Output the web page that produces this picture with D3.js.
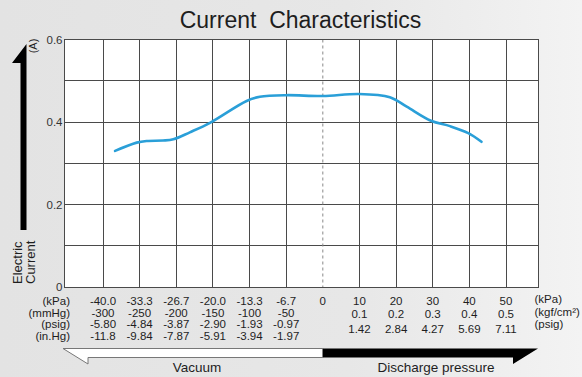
<!DOCTYPE html>
<html><head><meta charset="utf-8">
<script src="https://cdn.jsdelivr.net/npm/d3@7"></script>
<style>
html,body{margin:0;padding:0;}
svg{display:block;font-family:"Liberation Sans",Arial,Helvetica,sans-serif;}
</style></head>
<body><svg id="c" width="582" height="377"></svg>
<script>
// ---- data ----
const kPaLabels = ["-40.0","-33.3","-26.7","-20.0","-13.3","-6.7","0","10","20","30","40","50"];
const mmHgLabels = ["-300","-250","-200","-150","-100","-50"];
const psigVacLabels = ["-5.80","-4.84","-3.87","-2.90","-1.93","-0.97"];
const inHgLabels = ["-11.8","-9.84","-7.87","-5.91","-3.94","-1.97"];
const kgfLabels = ["0.1","0.2","0.3","0.4","0.5"];
const psigPosLabels = ["1.42","2.84","4.27","5.69","7.11"];
const yTickValues = [0, 0.2, 0.4, 0.6];
const yGridValues = [0.1, 0.2, 0.3, 0.4, 0.5];
// curve: position along the pressure axis (1 = -40.0 kPa ... 12 = 50 kPa), current (A)
const curvePos = [1.33, 1.92, 2.19, 2.64, 2.92, 3.37, 3.92, 4.92, 5.28, 5.99, 7.0, 7.99, 8.83, 9.29, 9.95, 10.47, 10.97, 11.33];
const curveAmp = [0.330, 0.350, 0.354, 0.355, 0.358, 0.375, 0.398, 0.451, 0.461, 0.465, 0.463, 0.468, 0.460, 0.437, 0.403, 0.390, 0.373, 0.352];

// ---- layout ----
const svg = d3.select("#c");
const L = 64, R = 538, T = 39.5, B = 287;
const x = d3.scaleLinear().domain([1, 12]).range([103, 506]);
const y = d3.scaleLinear().domain([0, 0.6]).range([B, T]);
const ink = "#1e1e1e";

const defs = svg.append("defs");
const g = defs.append("linearGradient").attr("id","bg").attr("x1","0").attr("x2","1").attr("y1","0").attr("y2","0");
g.append("stop").attr("offset","0").attr("stop-color","#e3e3e3");
g.append("stop").attr("offset","0.6").attr("stop-color","#e7e7e7");
g.append("stop").attr("offset","1").attr("stop-color","#f3f3f3");
svg.append("rect").attr("width",582).attr("height",377).attr("fill","url(#bg)");

// title
svg.append("text").attr("x",300.5).attr("y",27.5).attr("text-anchor","middle")
  .attr("font-size",23).attr("fill",ink).style("white-space","pre")
  .text("Current  Characteristics");

// plot area
svg.append("rect").attr("x",L).attr("y",T).attr("width",R-L).attr("height",B-T).attr("fill","#fff");

const grid = svg.append("g").attr("stroke","#4a4a4a").attr("stroke-width",1).attr("shape-rendering","crispEdges");
grid.selectAll("line.h").data(yGridValues).join("line").attr("class","h")
  .attr("x1",L).attr("x2",R).attr("y1",d=>y(d)).attr("y2",d=>y(d));
const idx = d3.range(1, 13);
grid.selectAll("line.v").data(idx.filter(i=>kPaLabels[i-1]!=="0")).join("line").attr("class","v")
  .attr("x1",d=>x(d)).attr("x2",d=>x(d)).attr("y1",T).attr("y2",B);
svg.append("line").attr("x1",x(7)).attr("x2",x(7)).attr("y1",T).attr("y2",B)
  .attr("stroke","#888").attr("stroke-width",1).attr("stroke-dasharray","3,3");
svg.append("rect").attr("x",L).attr("y",T).attr("width",R-L).attr("height",B-T)
  .attr("fill","none").attr("stroke","#4a4a4a").attr("stroke-width",1).attr("shape-rendering","crispEdges");

// curve
const pts = curvePos.map((p,i)=>[p, curveAmp[i]]);
svg.append("path").datum(pts)
  .attr("d", d3.line().x(d=>x(d[0])).y(d=>y(d[1])).curve(d3.curveCatmullRom.alpha(0.5)))
  .attr("fill","none").attr("stroke","#2a9fd8").attr("stroke-width",2.6).attr("stroke-linecap","round");

// y tick labels
svg.selectAll("text.yt").data(yTickValues).join("text").attr("class","yt")
  .attr("x",62.5).attr("y",d=>y(d)+4).attr("text-anchor","end").attr("font-size",11.5).attr("fill","#333")
  .text(d=>d===0?"0":d3.format(".1f")(d));

// y axis title & arrow
svg.append("path").attr("d","M20.5,230 L20.5,63 L12,63 L26.5,44 L26.5,230 Z").attr("fill","#000");
svg.append("text").attr("transform","translate(36.5,46) rotate(-90)").attr("text-anchor","middle")
  .attr("font-size",11).attr("fill",ink).text("(A)");
svg.append("text").attr("transform","translate(22,284) rotate(-90)").attr("text-anchor","start")
  .attr("font-size",13).attr("fill",ink).text("Electric");
svg.append("text").attr("transform","translate(35,284) rotate(-90)").attr("text-anchor","start")
  .attr("font-size",13).attr("fill",ink).text("Current");

// x table
const fs = 11.5;
const leftRows = [["(kPa)",305],["(mmHg)",316.5],["(psig)",328],["(in.Hg)",339.5]];
svg.selectAll("text.rl").data(leftRows).join("text").attr("class","rl")
  .attr("x",70).attr("y",d=>d[1]).attr("text-anchor","end").attr("font-size",fs).attr("fill",ink).text(d=>d[0]);
function row(labels, start, yy){
  svg.append("g").selectAll("text").data(labels).join("text")
    .attr("x",(d,i)=>x(start+i)).attr("y",yy).attr("text-anchor","middle").attr("font-size",fs).attr("fill",ink).text(d=>d);
}
row(kPaLabels, 1, 305);
row(mmHgLabels, 1, 316.5);
row(psigVacLabels, 1, 328);
row(inHgLabels, 1, 339.5);
row(kgfLabels, 8, 318);
row(psigPosLabels, 8, 333);
const rightRows = [["(kPa)",303],["(kgf/cm²)",315.5],["(psig)",328]];
svg.selectAll("text.rr").data(rightRows).join("text").attr("class","rr")
  .attr("x",534.5).attr("y",d=>d[1]).attr("text-anchor","start").attr("font-size",fs).attr("fill",ink).text(d=>d[0]);

// bottom direction arrows
const x0 = x(7);
svg.append("path").attr("d",`M${L-1},348.5 L${x0},348.5 L${x0},357.5 L88,357.5 L88,364 Z`)
  .attr("fill","#fff").attr("stroke","#777").attr("stroke-width",1);
svg.append("path").attr("d",`M${x0},348.5 L${R},348.5 L513,364 L513,357.5 L${x0},357.5 Z`).attr("fill","#000");
svg.append("text").attr("x",197).attr("y",372).attr("text-anchor","middle").attr("font-size",13.5).attr("fill",ink).text("Vacuum");
svg.append("text").attr("x",436).attr("y",372).attr("text-anchor","middle").attr("font-size",13.5).attr("fill",ink).text("Discharge pressure");
</script></body></html>
